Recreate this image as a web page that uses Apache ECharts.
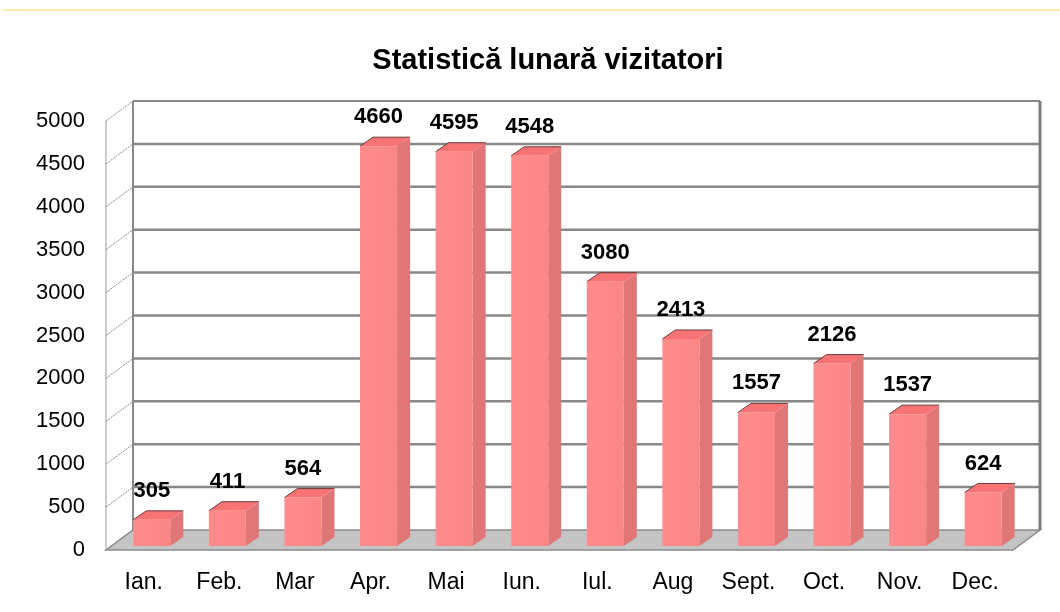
<!DOCTYPE html>
<html>
<head>
<meta charset="utf-8">
<style>
  html, body { margin: 0; padding: 0; background: #fff; }
  #chart { width: 1060px; height: 612px; }
</style>
<script src="https://cdn.jsdelivr.net/npm/echarts@6/dist/echarts.min.js"></script>
</head>
<body>
<div id="chart"></div>
<script>
const months = ['Ian.', 'Feb.', 'Mar', 'Apr.', 'Mai', 'Iun.', 'Iul.', 'Aug', 'Sept.', 'Oct.', 'Nov.', 'Dec.']
const visitors = [305, 411, 564, 4660, 4595, 4548, 3080, 2413, 1557, 2126, 1537, 624]
const yTicks = [0, 500, 1000, 1500, 2000, 2500, 3000, 3500, 4000, 4500, 5000]

const FONT = "'Liberation Sans', Arial, sans-serif"
// depth of the back wall, in pixels
const BX = 27
const BY = -20
// bar face shift and bar depth
const FX = 8
const FY = -4
const DX = 13
const DY = -9

const chart = echarts.init(document.getElementById('chart'))

const renderWalls = (params, api) => {
  const cs = params.coordSys
  const x0 = cs.x
  const x1 = cs.x + cs.width
  const y0 = api.coord([0, 0])[1]
  const yTop = api.coord([0, 5000])[1]
  const children = []

  // floor
  children.push({
    type: 'polygon',
    shape: { points: [[x0 + BX, y0 + BY], [x1 + BX, y0 + BY], [x1, y0], [x0, y0]] },
    style: { fill: '#c4c4c4', stroke: '#8c8c8c', lineWidth: 1.5 },
  })

  yTicks.forEach((v) => {
    const yf = api.coord([0, v])[1]
    if (v > 0) {
      children.push({
        type: 'line',
        shape: { x1: x0 + BX, y1: yf + BY, x2: x1 + BX, y2: yf + BY },
        style: { stroke: '#888', lineWidth: v === 5000 ? 2 : 2.5 },
      })
    }
    children.push({
      type: 'line',
      shape: { x1: x0, y1: yf, x2: x0 + BX, y2: yf + BY },
      style: { stroke: '#8a8a8a', lineWidth: 1, lineDash: [2, 1] },
    })
  })

  children.push(
    {
      type: 'line',
      shape: { x1: x0, y1: yTop, x2: x0, y2: y0 },
      style: { stroke: '#999', lineWidth: 1 },
    },
    {
      type: 'line',
      shape: { x1: x0 + BX, y1: yTop + BY, x2: x0 + BX, y2: y0 + BY },
      style: { stroke: '#888', lineWidth: 2 },
    },
    {
      type: 'line',
      shape: { x1: x1 + BX, y1: yTop + BY, x2: x1 + BX, y2: y0 + BY },
      style: { stroke: '#7c7c7c', lineWidth: 3 },
    }
  )

  return { type: 'group', children }
}

const renderBar = (params, api) => {
  const i = api.value(0)
  const v = api.value(1)
  const top = api.coord([i, v])
  const base = api.coord([i, 0])
  const w = api.size([1, 0])[0] * 0.49
  const fx = top[0] - w / 2 + FX
  const ty = top[1] + FY
  const by = base[1] + FY

  return {
    type: 'group',
    children: [
      {
        type: 'polygon',
        shape: { points: [[fx + w, ty], [fx + w + DX, ty + DY], [fx + w + DX, by + DY], [fx + w, by]] },
        style: { fill: '#e07676' },
      },
      {
        type: 'rect',
        shape: { x: fx, y: ty, width: w, height: by - ty },
        style: {
          fill: new echarts.graphic.LinearGradient(0, 0, 1, 0, [
            { offset: 0, color: '#ff8c8c' },
            { offset: 1, color: '#fc8686' },
          ]),
        },
      },
      {
        type: 'polygon',
        shape: { points: [[fx, ty], [fx + DX, ty + DY], [fx + w + DX, ty + DY], [fx + w, ty]] },
        style: { fill: '#f87474' },
      },
      {
        type: 'polyline',
        shape: { points: [[fx, ty], [fx + DX, ty + DY], [fx + w + DX, ty + DY]] },
        style: { stroke: '#6a3a3a', lineWidth: 1, fill: null },
      },
      {
        type: 'text',
        style: {
          text: String(v),
          x: fx + w / 2,
          y: ty + DY - 9,
          align: 'center',
          verticalAlign: 'bottom',
          font: 'bold 22px ' + FONT,
          fill: '#000',
        },
      },
    ],
  }
}

const option = {
  animation: false,
  backgroundColor: '#fff',
  title: {
    text: 'Statistică lunară vizitatori',
    left: 543,
    textAlign: 'center',
    top: 41,
    textStyle: { fontFamily: FONT, fontSize: 29, fontWeight: 'bold', color: '#000' },
  },
  graphic: [
    {
      type: 'line',
      shape: { x1: 3, y1: 10, x2: 1060, y2: 10 },
      style: { stroke: '#ffe98c', lineWidth: 1.5 },
    },
  ],
  grid: { left: 106, right: 47, top: 121, bottom: 62 },
  xAxis: {
    type: 'category',
    data: months,
    axisLine: { show: false },
    axisTick: { show: false },
    axisLabel: { fontFamily: FONT, fontSize: 23, color: '#000', margin: 21 },
  },
  yAxis: {
    type: 'value',
    min: 0,
    max: 5000,
    interval: 500,
    axisLine: { show: false },
    axisTick: { show: false },
    splitLine: { show: false },
    axisLabel: {
      fontFamily: FONT,
      fontSize: 22,
      color: '#000',
      margin: 21,
      formatter: (v) => String(v),
    },
  },
  series: [
    {
      type: 'custom',
      z: 1,
      renderItem: renderWalls,
      data: [[0, 0]],
      silent: true,
    },
    {
      type: 'custom',
      z: 2,
      renderItem: renderBar,
      encode: { x: 0, y: 1 },
      data: visitors.map((v, i) => [i, v]),
    },
  ],
}

chart.setOption(option)
</script>
</body>
</html>
